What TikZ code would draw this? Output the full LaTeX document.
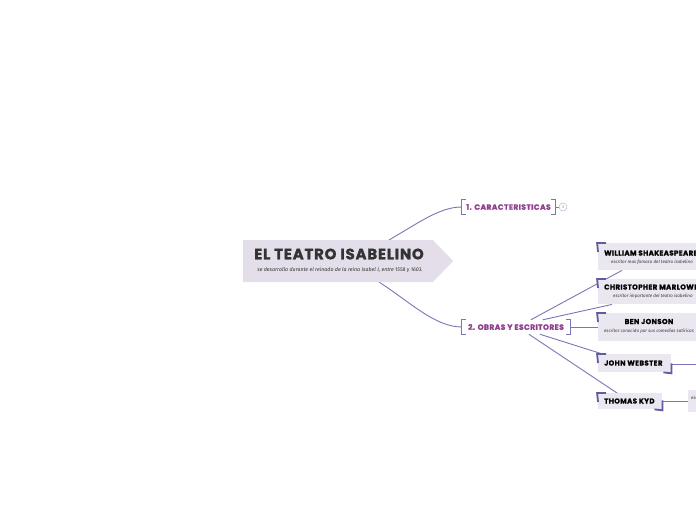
\documentclass[tikz,border=0pt]{standalone}
\usepackage{fontspec}
\setmainfont{Poppins}
\newfontfamily\subf{Fira Sans}
\usetikzlibrary{calc,shapes.symbols}
\pgfdeclarelayer{background}
\pgfsetlayers{background,main}
\definecolor{conn}{HTML}{7A75B6}
\definecolor{brk}{HTML}{5F5CA0}
\definecolor{mainfill}{HTML}{E4DEEA}
\definecolor{boxfill}{HTML}{EBE7F1}
\definecolor{lvl1}{HTML}{8E3F8E}
\definecolor{titlec}{HTML}{333333}
\newcommand\heavy{\bfseries\addfontfeatures{FakeBold=1.2,LetterSpace=5}}
\tikzset{
  cn/.style={draw=conn, line width=0.9pt},
  brkone/.style={draw=conn, line width=0.8pt},
  brktwo/.style={draw=brk, line width=1.8pt},
  levelone/.style={rectangle, inner sep=0pt, text=lvl1, font=\fontsize{7.6}{8}\selectfont\heavy},
  childbox/.style={rectangle, fill=boxfill, inner sep=0pt, anchor=north west},
  childtxt/.style={inner sep=0pt, text=black, font=\fontsize{7.1}{8}\selectfont\heavy},
  childsub/.style={inner sep=0pt, text=titlec, font=\subf\itshape\fontsize{4.5}{5}\selectfont},
}
\begin{document}
\begin{tikzpicture}[x=1pt,y=-1pt]
\useasboundingbox (0,0) rectangle (696,520);
\clip (0,0) rectangle (696,520);
% main node
\node[signal, signal to=east, signal pointer angle=92, fill=mainfill, minimum width=210pt, minimum height=42pt, inner sep=0pt] (main) at (338,261) {};
\node[inner sep=0pt, text=titlec, font=\fontsize{15}{16}\selectfont\heavy] (ttl) at (339,254) {EL TEATRO ISABELINO};
\node[inner sep=0pt, text=titlec, font=\subf\itshape\fontsize{5.3}{6}\selectfont] (ttlsub) at (340,270) {se desarrollo durante el reinado de la reina Isabel I, entre 1558 y 1603.};
\coordinate (m1) at (389,240);
\coordinate (m2) at (379,282);
% level one
\node[levelone, minimum width=93pt, minimum height=14pt] (c1) at (508.5,207) {1. CARACTERISTICAS};
\node[levelone, minimum width=108pt, minimum height=14pt] (c2) at (516,327) {2. OBRAS Y ESCRITORES};
\node[circle, draw=conn!55, line width=0.5pt, minimum size=8pt, inner sep=0pt, text=conn, font=\subf\fontsize{4}{5}\selectfont] (cnt) at (563,207) {3};
\foreach \n in {c1,c2}{
  \draw[brkone] ([xshift=4pt]\n.north west) -- (\n.north west) -- (\n.south west) -- ([xshift=4pt]\n.south west);
  \draw[brkone] ([xshift=-4pt]\n.north east) -- (\n.north east) -- (\n.south east) -- ([xshift=-4pt]\n.south east);
}
% children
\node[childbox, minimum width=130pt, minimum height=27pt] (will) at (598,243) {};
\node[childbox, minimum width=130pt, minimum height=25pt] (chris) at (598,279) {};
\node[childbox, minimum width=104pt, minimum height=28pt] (ben) at (598,313) {};
\node[childbox, minimum width=73pt, minimum height=18pt] (john) at (598,354) {};
\node[childbox, minimum width=64pt, minimum height=16pt] (thom) at (598,393) {};
\node[childbox, minimum width=40pt, minimum height=22pt] (kydsub) at (688,390) {};
\node[childtxt, anchor=west] (willt) at (604,253) {WILLIAM SHAKEASPEARE};
\node[childsub, anchor=west] (wills) at (611,262) {escritor mas famoso del teatro isabelino};
\node[childtxt, anchor=west] (christ) at (604,287) {CHRISTOPHER MARLOWE};
\node[childsub, anchor=west] (chriss) at (613,296.5) {escritor importante del teatro isabelino};
\node[childtxt] (bent) at (649,321.5) {BEN JONSON};
\node[childsub] (bens) at (649,331) {escritor conocido por sus comedias satíricas};
\node[childtxt, anchor=west] (johnt) at (604,363) {JOHN WEBSTER};
\node[childtxt, anchor=west] (thomt) at (604,401) {THOMAS KYD};
\node[childsub, anchor=west] (kyds) at (691,398) {escritor};
\foreach \n in {will,chris,ben,john,thom}{
  \draw[brktwo] ([yshift=-9pt]\n.north west) -- ([xshift=-0.9pt]\n.north west) -- ([xshift=8pt]\n.north west);
}
\foreach \n in {john,thom}{
  \draw[brktwo] ([yshift=9pt]\n.south east) -- ([yshift=-0.9pt]\n.south east) -- ([xshift=-8pt]\n.south east);
}
\coordinate (johnout) at ([yshift=8pt]john.south east);
\coordinate (thomout) at ([yshift=8pt]thom.south east);
% connectors
\begin{pgfonlayer}{background}
\draw[cn] (m1) .. controls (420,222) and (440,207) .. (c1.west);
\draw[cn] (m2) .. controls (410,302) and (435,327) .. (c2.west);
\draw[cn] (c1.east) -- (cnt.west);
\draw[cn] ([xshift=69pt]c2.north west) -- ([xshift=24pt]will.south west);
\draw[cn] ([xshift=81pt]c2.north west) -- ([xshift=14pt]chris.south west);
\draw[cn] (c2.east) -- (ben.west |- c2.east);
\draw[cn] ([xshift=78pt]c2.south west) -- ([xshift=14pt,yshift=-3pt]john.north west);
\draw[cn] ([xshift=67pt]c2.south west) -- ([xshift=22pt,yshift=-2pt]thom.north west);
\draw[cn] (johnout) -- ++(40pt,0);
\draw[cn] (thomout) -- (kydsub.west |- thomout);
\end{pgfonlayer}
\end{tikzpicture}
\end{document}
